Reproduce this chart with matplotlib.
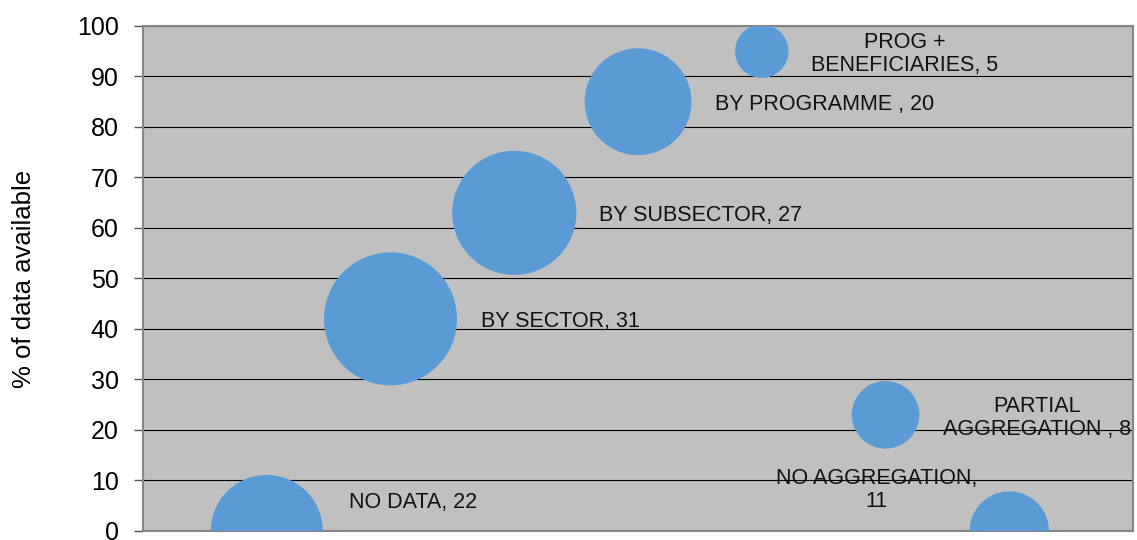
import numpy as np
import matplotlib
matplotlib.use("Agg")
import matplotlib.pyplot as plt

plt.rcParams['font.family'] = ['Liberation Sans', 'DejaVu Sans']

# bubble data: x position, % of data available, bubble size (count)
labels = ["NO DATA", "BY SECTOR", "BY SUBSECTOR", "BY PROGRAMME ", "PROG +\nBENEFICIARIES",
          "PARTIAL\nAGGREGATION ", "NO AGGREGATION,\n"]
xpos = [1, 2, 3, 4, 5, 6, 7]
pct = [0, 42, 63, 85, 95, 23, 0]
counts = [22, 31, 27, 20, 5, 8, 11]

# label placement (pixels from bubble centre)
lab_off = [(82, 28), (90, -3), (85, -3), (77, -3), (143, -3), (152, -3), (-133, 41)]
lab_ha = ['left', 'left', 'left', 'left', 'center', 'center', 'center']

fig = plt.figure(figsize=(11.37, 5.40), dpi=100)
ax = fig.add_axes([0.1258, 0.0167, 0.8707, 0.9352])
ax.set_facecolor('#c0c0c0')

ax.set_xlim(0, 8)
ax.set_ylim(0, 100)
ax.set_yticks(np.arange(0, 101, 10))
ax.set_xticks([])
ax.grid(axis='y', color='black', linewidth=0.8)
ax.set_axisbelow(True)

ax.scatter(xpos, pct, s=np.array(counts) * 296, color='#5b9bd5', zorder=3, linewidths=0)

for i, lab in enumerate(labels):
    if lab.endswith("\n"):
        txt = lab + str(counts[i])
    else:
        txt = f"{lab}, {counts[i]}"
    ax.annotate(txt, (xpos[i], pct[i]), xytext=lab_off[i], textcoords='offset pixels',
                ha=lab_ha[i], va='center', multialignment='center', fontsize=15.5,
                color='#111111', linespacing=1.1, zorder=4, annotation_clip=False)

for sp in ax.spines.values():
    sp.set_color('#868686')
    sp.set_linewidth(1.5)

ax.tick_params(axis='y', length=6.5, width=1, color='#555555', pad=11, labelsize=18)
ax.set_ylabel('% of data available', fontsize=18.5)
ax.yaxis.set_label_coords(-0.108, 0.5)

fig.savefig('out.png', dpi=100)
